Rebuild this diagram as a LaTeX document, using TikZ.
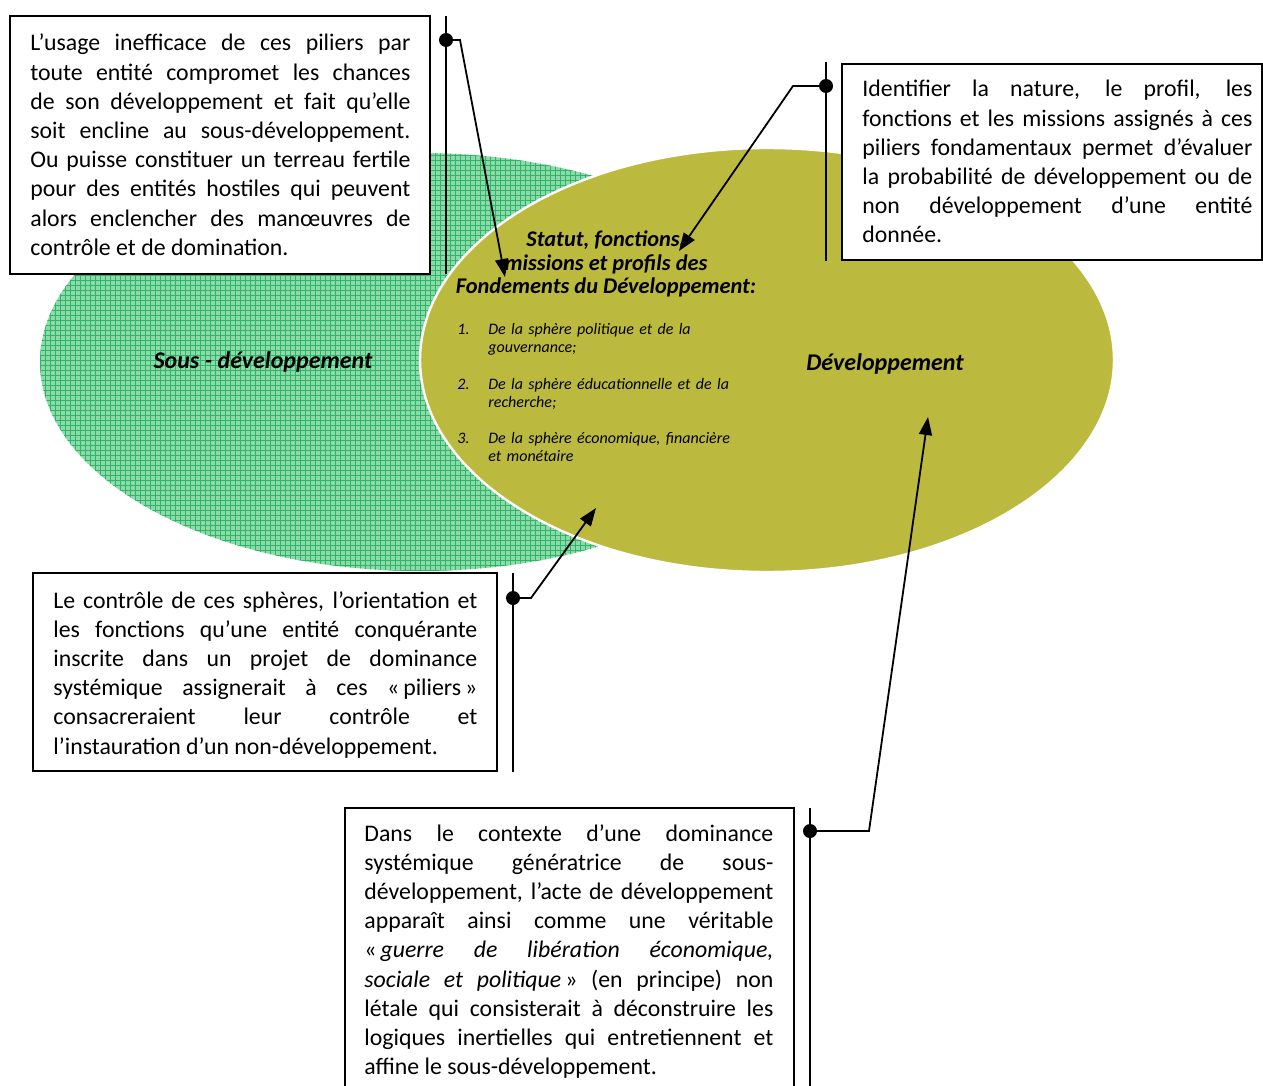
\documentclass[tikz,border=0pt]{standalone}
\usepackage{fontspec}
\setmainfont{Carlito}
\usetikzlibrary{arrows.meta}
\definecolor{olivefill}{RGB}{188,186,62}
\definecolor{greenfill}{RGB}{142,217,170}
\definecolor{greengrid}{RGB}{44,181,102}
\tolerance=10000
\hyphenpenalty=10000
\exhyphenpenalty=10000

\begin{document}
\begin{tikzpicture}[
    x=0.5pt, y=-0.5pt,
    frame/.style={draw, line width=1pt, fill=white},
    boxtext/.style={text width=#1, align=justify, inner sep=0pt, anchor=base west, font=\fontsize{11.9}{14.6}\selectfont},
    zonelabel/.style={font=\fontsize{12}{14}\selectfont\bfseries\itshape},
    titletext/.style={align=center, inner sep=0pt, font=\fontsize{11.2}{11.75}\selectfont\bfseries\itshape},
    itemtext/.style={text width=#1, align=left, inner sep=0pt, anchor=base west, font=\fontsize{8}{9}\selectfont\itshape},
    stem/.style={line width=1pt},
    callout/.style={line width=0.9pt, -{Triangle[length=9pt,width=6.5pt]}}
]
    \useasboundingbox (0,0) rectangle (1263,1086);
    \clip (0,0) rectangle (1263,1086);

    % Sous-developpement (grille verte)
    \begin{scope}
        \clip (420,362) ellipse [x radius=380, y radius=209];
        \fill[greenfill] (30,140) rectangle (810,585);
        \draw[greengrid, line width=0.35pt, step=2.5pt] (30,140) grid (810,585);
    \end{scope}

    % Developpement
    \fill[olivefill, draw=white, line width=1.2pt] (767,360) ellipse [x radius=347, y radius=212];

    \node[zonelabel] (sous) at (263,362) {Sous - développement};
    \node[zonelabel] (dev) at (885,364) {Développement};

    \node[titletext] (fond) at (606,264) {Statut, fonctions,\\missions et profils des\\Fondements du Développement:};

    \foreach \n/\y/\txt in {1/334/{De la sphère politique et de la\\gouvernance;},
                            2/389/{De la sphère éducationnelle et de la\\recherche;},
                            3/443/{De la sphère économique, financière\\et monétaire}} {
        \node[itemtext=12pt] (num\n) at (457,\y) {\n.};
        \node[itemtext=140pt] (item\n) at (488,\y) {\txt};
    }

    % Encadres
    \draw[frame] (10,16) rectangle (430,274);
    \node[boxtext=190pt] (usage) at (30,51) {L’usage inefficace de ces piliers par\linebreak
        toute entité compromet les chances\linebreak
        de son développement et fait qu’elle\linebreak
        soit encline au sous-développement.\linebreak
        Ou puisse constituer un terreau fertile\linebreak
        pour des entités hostiles qui peuvent\linebreak
        alors enclencher des manœuvres de\linebreak
        contrôle et de domination.};

    \draw[frame] (842,64) rectangle (1262,260);
    \node[boxtext=195pt] (identifier) at (862,97) {Identifier la nature, le profil, les\linebreak
        fonctions et les missions assignés à ces\linebreak
        piliers fondamentaux permet d’évaluer\linebreak
        la probabilité de développement ou de\linebreak
        non développement d’une entité\linebreak
        donnée.};

    \draw[frame] (33,573) rectangle (497,771);
    \node[boxtext=212pt] (controle) at (53,608) {Le contrôle de ces sphères, l’orientation et\linebreak
        les fonctions qu’une entité conquérante\linebreak
        inscrite dans un projet de dominance\linebreak
        systémique assignerait à ces «\,piliers\,»\linebreak
        consacreraient leur contrôle et\linebreak
        l’instauration d’un non-développement.};

    \draw[frame] (345,808) rectangle (794,1100);
    \node[boxtext=204.5pt] (contexte) at (364,841) {Dans le contexte d’une dominance\linebreak
        systémique génératrice de sous-\linebreak
        développement, l’acte de développement\linebreak
        apparaît ainsi comme une véritable\linebreak
        «\,\textit{guerre de libération économique,}\linebreak
        \textit{sociale et politique}\,» (en principe) non\linebreak
        létale qui consisterait à déconstruire les\linebreak
        logiques inertielles qui entretiennent et\linebreak
        affine le sous-développement.};

    % Renvois
    \coordinate (dotA) at (446,40);
    \coordinate (tipA) at (505,277);
    \coordinate (dotB) at (826,86);
    \coordinate (tipB) at (679,251);
    \coordinate (dotC) at (513,598);
    \coordinate (tipC) at (596,508);
    \coordinate (dotD) at (810,831);
    \coordinate (tipD) at (928,417);

    \draw[stem] (446,16) -- (446,274);
    \draw[stem] (826,62) -- (826,261);
    \draw[stem] (513,573) -- (513,772);
    \draw[stem] (810,808) -- (810,1100);

    \draw[callout] (dotA) -- ++(14,0) -- (tipA);
    \draw[callout] (dotB) -- ++(-33,0) -- (tipB);
    \draw[callout] (dotC) -- ++(18,0) -- (tipC);
    \draw[callout] (dotD) -- ++(59,0) -- (tipD);

    \foreach \d in {dotA,dotB,dotC,dotD}
        \fill (\d) circle [radius=7];
\end{tikzpicture}
\end{document}
